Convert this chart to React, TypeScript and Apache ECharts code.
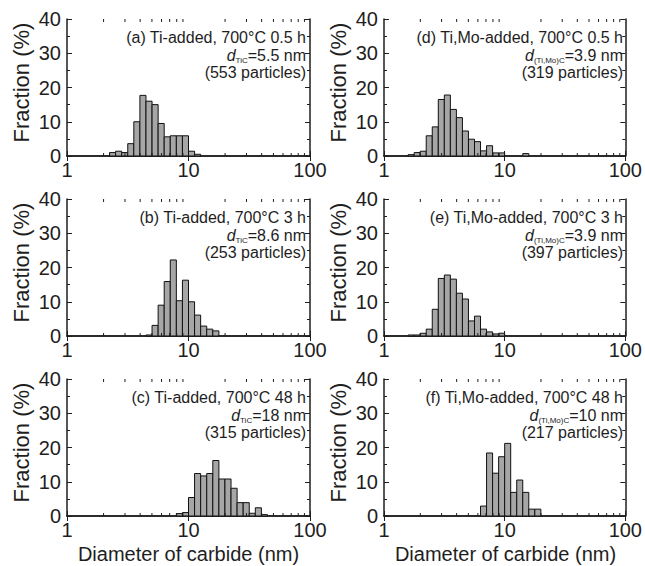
import React, { useEffect, useRef } from "react";
import * as echarts from "echarts";

// ---- data ----
const panelTitles = [
  "(a) Ti-added, 700°C 0.5 h",
  "(b) Ti-added, 700°C 3 h",
  "(c) Ti-added, 700°C 48 h",
  "(d) Ti,Mo-added, 700°C 0.5 h",
  "(e) Ti,Mo-added, 700°C 3 h",
  "(f) Ti,Mo-added, 700°C 48 h",
];
const carbideSub = ["TiC", "TiC", "TiC", "(Ti,Mo)C", "(Ti,Mo)C", "(Ti,Mo)C"];
const meanDiameters = ["5.5", "8.6", "18", "3.9", "3.9", "10"];
const particleCounts = [553, 253, 315, 319, 397, 217];

// histogram bins: equal width in log10(d), first bin's lower edge (log10 nm)
const binWidthLog = 0.05;
const binStartLog = [0.35, 0.65, 0.9, 0.2, 0.2, 0.8];

const fractionA = [1.0, 1.4, 1.0, 3.6, 10.0, 17.7, 16.0, 15.0, 9.5, 5.6, 5.9, 5.9, 5.9, 1.4, 0.5];
const fractionB = [0.3, 3.1, 9.0, 15.9, 22.2, 10.3, 16.3, 10.0, 6.1, 2.9, 2.0, 1.5];
const fractionC = [0.7, 1.0, 5.4, 12.4, 11.7, 12.4, 16.2, 10.8, 10.8, 8.1, 3.9, 3.9, 0.8, 2.4, 0.4];
const fractionD = [0.4, 1.0, 1.4, 5.9, 8.5, 16.5, 17.8, 13.6, 11.2, 7.3, 4.9, 4.2, 1.5, 3.0, 0.9, 0.9, 0, 0, 0, 0.7];
const fractionE = [0.3, 0.3, 0.8, 2.0, 7.8, 16.8, 17.8, 16.6, 12.5, 10.8, 4.4, 5.8, 2.0, 1.2, 0.6, 0.8];
const fractionF = [2.9, 18.4, 12.5, 17.3, 21.2, 6.9, 10.5, 6.9, 2.0, 2.0];
const fractions = [fractionA, fractionB, fractionC, fractionD, fractionE, fractionF];

const xMin = 1;
const xMax = 100;
const yMin = 0;
const yMax = 40;
const yInterval = 10;
const minorXTicks = [2, 3, 4, 5, 6, 7, 8, 9, 20, 30, 40, 50, 60, 70, 80, 90];
const yAxisTitle = "Fraction (%)";
const xAxisTitle = "Diameter of carbide (nm)";

// ---- layout ----
const W = 645;
const H = 566;
const gridLeft = [67, 67, 67, 384, 384, 384];
const gridTop = [19, 199, 379, 19, 199, 379];
const gridWidth = 243;
const gridHeight = 137;
const FONT = "'Liberation Sans', Arial, Helvetica, sans-serif";
const INK = "#1e1e1e";

export default function App() {
  const ref = useRef<HTMLDivElement>(null);

  useEffect(() => {
    document.body.style.margin = "0";
    if (!ref.current) return;
    const chart = echarts.init(ref.current, undefined, { renderer: "svg" });

    const axisLine = { show: true, lineStyle: { color: INK, width: 1.5 } };
    const grid: any[] = [];
    const xAxis: any[] = [];
    const yAxis: any[] = [];
    const series: any[] = [];
    const graphic: any[] = [];

    for (let i = 0; i < 6; i++) {
      grid.push({ left: gridLeft[i], top: gridTop[i], width: gridWidth, height: gridHeight });
      const xBase = {
        gridIndex: i,
        type: "log",
        logBase: 10,
        min: xMin,
        max: xMax,
        axisLine,
        axisTick: { show: true, inside: true, length: 5, lineStyle: { color: INK, width: 1 } },
        splitLine: { show: false },
        minorTick: { show: false },
      };
      xAxis.push({
        ...xBase,
        position: "bottom",
        axisLabel: { show: true, fontSize: 20, color: INK, margin: 4, fontFamily: FONT },
      });
      xAxis.push({ ...xBase, position: "top", axisLabel: { show: false } });
      const yBase = {
        gridIndex: i,
        type: "value",
        min: yMin,
        max: yMax,
        interval: yInterval,
        axisLine,
        axisTick: { show: true, inside: true, length: 5, lineStyle: { color: INK, width: 1 } },
        minorTick: { show: true, splitNumber: 2, length: 3, lineStyle: { color: INK, width: 1 } },
        splitLine: { show: false },
        minorSplitLine: { show: false },
      };
      yAxis.push({
        ...yBase,
        position: "left",
        axisLabel: { show: true, fontSize: 20, color: INK, margin: 6, fontFamily: FONT },
      });
      yAxis.push({ ...yBase, position: "right", axisLabel: { show: false } });

      const vals = fractions[i];
      const data = vals.map((v, k) => [
        Math.pow(10, binStartLog[i] + k * binWidthLog),
        Math.pow(10, binStartLog[i] + (k + 1) * binWidthLog),
        v,
      ]);
      series.push({
        type: "custom",
        xAxisIndex: 2 * i,
        yAxisIndex: 2 * i,
        silent: true,
        encode: { x: [0, 1], y: 2 },
        data,
        renderItem: (_p: any, api: any) => {
          const v = api.value(2);
          if (!v) return null;
          const p1 = api.coord([api.value(0), v]);
          const p2 = api.coord([api.value(1), 0]);
          return {
            type: "rect",
            shape: { x: p1[0], y: p1[1], width: p2[0] - p1[0], height: p2[1] - p1[1] },
            style: { fill: "#a6a6a6", stroke: "#111", lineWidth: 1 },
          };
        },
      });
      series.push({
        type: "custom",
        xAxisIndex: 2 * i,
        yAxisIndex: 2 * i,
        silent: true,
        encode: { x: 0, y: 1 },
        data: minorXTicks.map((t) => [t, 0]),
        renderItem: (_p: any, api: any) => {
          const b = api.coord([api.value(0), yMin]);
          const t = api.coord([api.value(0), yMax]);
          return {
            type: "group",
            children: [
              { type: "line", shape: { x1: b[0], y1: b[1], x2: b[0], y2: b[1] - 3 }, style: { stroke: INK, lineWidth: 1 } },
              { type: "line", shape: { x1: t[0], y1: t[1], x2: t[0], y2: t[1] + 3 }, style: { stroke: INK, lineWidth: 1 } },
            ],
          };
        },
      });

      const rx = gridLeft[i] + gridWidth - 4;
      const ty = gridTop[i];
      graphic.push({
        type: "text",
        x: rx,
        y: ty + 18.5,
        silent: true,
        style: { text: panelTitles[i], fontSize: 16, fontFamily: FONT, fill: INK, align: "right", verticalAlign: "middle" },
      });
      graphic.push({
        type: "text",
        x: rx,
        y: ty + 36,
        silent: true,
        style: {
          text: `{i|d}{s|${carbideSub[i]}}{n|=${meanDiameters[i]} nm}`,
          align: "right",
          verticalAlign: "middle",
          rich: {
            i: { fontSize: 16, fontStyle: "italic", fontFamily: FONT, fill: INK, lineHeight: 18 },
            s: { fontSize: 8, fontFamily: FONT, fill: INK, lineHeight: 18, verticalAlign: "bottom" },
            n: { fontSize: 16, fontFamily: FONT, fill: INK, lineHeight: 18 },
          },
        },
      });
      graphic.push({
        type: "text",
        x: rx,
        y: ty + 53.5,
        silent: true,
        style: { text: `(${particleCounts[i]} particles)`, fontSize: 16, fontFamily: FONT, fill: INK, align: "right", verticalAlign: "middle" },
      });
      graphic.push({
        type: "text",
        x: gridLeft[i] - 46,
        y: ty + gridHeight / 2 - 5,
        rotation: Math.PI / 2,
        silent: true,
        style: { text: yAxisTitle, fontSize: 22, fontFamily: FONT, fill: INK, align: "center", verticalAlign: "middle" },
      });
      if (i === 2 || i === 5) {
        graphic.push({
          type: "text",
          x: gridLeft[i] + gridWidth / 2,
          y: ty + gridHeight + 38,
          silent: true,
          style: { text: xAxisTitle, fontSize: 20, fontFamily: FONT, fill: INK, align: "center", verticalAlign: "middle" },
        });
      }
    }

    chart.setOption({
      animation: false,
      backgroundColor: "#ffffff",
      textStyle: { fontFamily: FONT },
      grid,
      xAxis,
      yAxis,
      series,
      graphic,
    });

    return () => chart.dispose();
  }, []);

  return <div ref={ref} style={{ width: W, height: H }} />;
}
